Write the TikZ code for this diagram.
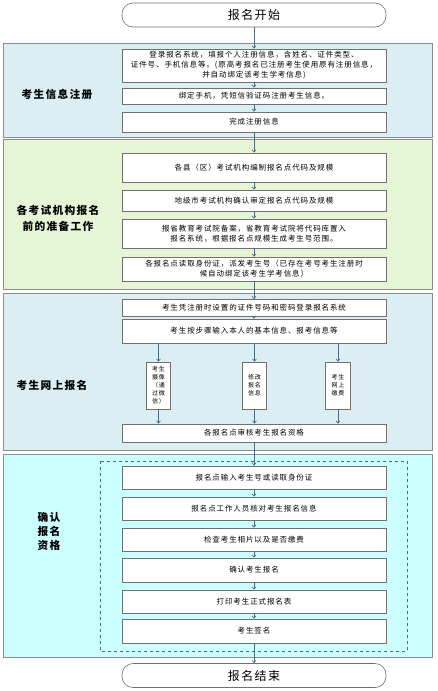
\documentclass[tikz,border=0pt]{standalone}
\usepackage{fontspec}
\setmainfont{Noto Sans CJK SC}[LetterSpace=12]
\usetikzlibrary{arrows.meta}
\definecolor{secblue}{HTML}{DAEEF3}
\definecolor{secgreen}{HTML}{E6F5D6}
\definecolor{seccyan}{HTML}{CCFFFF}
\definecolor{secline}{HTML}{8C8C8C}
\definecolor{boxline}{HTML}{707070}
\definecolor{arrcol}{HTML}{4D6B7A}
\definecolor{dashcol}{HTML}{4A6A80}
\begin{document}
\begin{tikzpicture}[x=1pt,y=-1pt,
  sect/.style={draw=secline, line width=0.8pt},
  box/.style={draw=boxline, fill=white, line width=0.6pt, minimum width=264pt, inner sep=1pt, align=center, font=\fontsize{7.5}{10}\selectfont},
  term/.style={draw=boxline, fill=white, line width=0.6pt, rounded corners=11pt, minimum width=264pt, minimum height=24pt, font=\fontsize{12}{14}\selectfont},
  lab/.style={font=\fontsize{10.7}{16}\selectfont\bfseries, align=center},
  arr/.style={draw=arrcol, line width=0.6pt, -{Straight Barb[length=2.5pt,width=4pt]}},
  vbox/.style={draw=boxline, fill=white, line width=0.6pt, minimum width=24.5pt, minimum height=47pt, align=center, inner sep=0pt, font=\fontsize{6}{8}\selectfont}
]
\path[use as bounding box, fill=white] (0,0) rectangle (437,691);
% sections
\path[sect, fill=secblue] (3,43) rectangle (432,137);
\path[sect, fill=secgreen] (3,139) rectangle (432,289);
\path[sect, fill=secblue] (3,293) rectangle (432,450);
\path[sect, fill=seccyan] (3,454) rectangle (432,657);
\draw[dashcol, dashed, line width=0.8pt] (100,461) rectangle (407,651);
% labels
\node[lab] (l1) at (57,94) {考生信息注册};
\node[lab] (l2) at (58,218) {各考试机构报名\\前的准备工作};
\node[lab] (l3) at (52,385) {考生网上报名};
\node[lab, font=\fontsize{10.7}{14}\selectfont\bfseries] (l4) at (49,531) {确认\\报名\\资格};
% terminals
\node[term] (start) at (254,15) {报名开始};
\node[term] (end) at (254,675.5) {报名结束};
% section 1
\node[box, minimum height=33pt] (b1) at (254,65.5) {登录报名系统，填报个人注册信息，含姓名、证件类型、\\证件号、手机信息等。(原高考报名已注册考生使用原有注册信息，\\并自动绑定该考生学考信息)};
\node[box, minimum height=16pt] (b2) at (254,96) {绑定手机，凭短信验证码注册考生信息。};
\node[box, minimum height=20pt] (b3) at (254,122) {完成注册信息};
% section 2
\node[box, minimum height=29pt] (b4) at (254,167.5) {各县（区）考试机构编制报名点代码及规模};
\node[box, minimum height=21pt] (b5) at (254,200.5) {地级市考试机构确认审定报名点代码及规模};
\node[box, minimum height=29pt] (b6) at (254,233.5) {报省教育考试院备案，省教育考试院将代码库置入\\报名系统，根据报名点规模生成考生号范围。};
\node[box, minimum height=24pt] (b7) at (254,269) {各报名点读取身份证，派发考生号（已存在考号考生注册时\\候自动绑定该考生学考信息）};
% section 3
\node[box, minimum height=17pt] (b8) at (254,308) {考生凭注册时设置的证件号码和密码登录报名系统};
\node[box, minimum height=24pt] (b9) at (254,331) {考生按步骤输入本人的基本信息、报考信息等};
\node[vbox] (v1) at (158.5,385.5) {考生\\摄像\\（通\\过微\\信）};
\node[vbox] (v2) at (254.5,385.5) {修改\\报名\\信息};
\node[vbox] (v3) at (338,385.5) {考生\\网上\\缴费};
\node[box, minimum height=18pt] (b10) at (254,433) {各报名点审核考生报名资格};
% section 4
\node[box, minimum height=23pt] (b11) at (254,477.5) {报名点输入考生号或读取身份证};
\node[box, minimum height=23pt] (b12) at (254,508.5) {报名点工作人员核对考生报名信息};
\node[box, minimum height=23pt] (b13) at (254,539.5) {检查考生相片以及是否缴费};
\node[box, minimum height=24pt] (b14) at (254,570) {确认考生报名};
\node[box, minimum height=23pt] (b15) at (254,601.5) {打印考生正式报名表};
\node[box, minimum height=24pt] (b16) at (254,631) {考生签名};
% arrows
\draw[arr] (start) -- (b1);
\draw[arr] (b1) -- (b2);
\draw[arr] (b2) -- (b3);
\draw[arr] (b3) -- (b4);
\draw[arr] (b4) -- (b5);
\draw[arr] (b5) -- (b6);
\draw[arr] (b6) -- (b7);
\draw[arr] (b7) -- (b8);
\draw[arr] (b8) -- (b9);
\foreach \v in {v1,v2,v3}{
  \draw[arr] (b9.south -| \v) -- (\v.north);
  \draw[arr] (\v.south) -- (b10.north -| \v);
}
\draw[arr] (b10) -- (b11);
\draw[arr] (b11) -- (b12);
\draw[arr] (b12) -- (b13);
\draw[arr] (b13) -- (b14);
\draw[arr] (b14) -- (b15);
\draw[arr] (b15) -- (b16);
\draw[arr] (b16) -- (end);
\end{tikzpicture}
\end{document}
